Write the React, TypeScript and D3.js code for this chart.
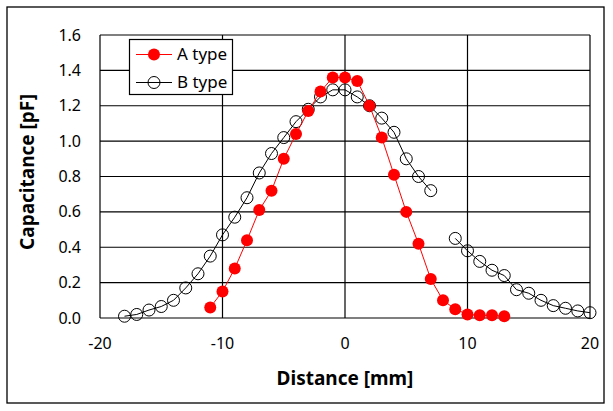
import { useEffect } from "react";
import * as d3 from "d3";

const W = 613;
const H = 411;

// plot area in pixels
const PLOT = { left: 100, right: 590, top: 35, bottom: 318 };

const xTicks = [-20, -10, 0, 10, 20];
const yTicks = [0, 0.2, 0.4, 0.6, 0.8, 1.0, 1.2, 1.4, 1.6];

// A type (filled red)
const aX = [-11, -10, -9, -8, -7, -6, -5, -4, -3, -2, -1, 0, 1, 2, 3, 4, 5, 6, 7, 8, 9, 10, 11, 12, 13];
const aY = [0.06, 0.15, 0.28, 0.44, 0.61, 0.72, 0.9, 1.04, 1.17, 1.28, 1.36, 1.36, 1.34, 1.2, 1.02, 0.81, 0.6, 0.42, 0.22, 0.1, 0.05, 0.02, 0.015, 0.015, 0.01];

// B type (open circles), null = gap in the line
const bX = [-18, -17, -16, -15, -14, -13, -12, -11, -10, -9, -8, -7, -6, -5, -4, -3, -2, -1, 0, 1, 2, 3, 4, 5, 6, 7, 8, 9, 10, 11, 12, 13, 14, 15, 16, 17, 18, 19, 20];
const bY: (number | null)[] = [0.01, 0.02, 0.045, 0.065, 0.1, 0.17, 0.25, 0.35, 0.47, 0.57, 0.68, 0.82, 0.93, 1.02, 1.11, 1.18, 1.25, 1.29, 1.29, 1.25, 1.2, 1.13, 1.05, 0.9, 0.8, 0.72, null, 0.45, 0.38, 0.32, 0.27, 0.24, 0.16, 0.14, 0.1, 0.07, 0.055, 0.04, 0.03];

const FONT = "'Noto Sans', 'Open Sans', sans-serif";

type Pt = { x: number; y: number | null };

export default function App() {
  useEffect(() => {
    document.body.style.margin = "0";
  }, []);

  const x = d3.scaleLinear().domain([-20, 20]).range([PLOT.left, PLOT.right]);
  const y = d3.scaleLinear().domain([0, 1.6]).range([PLOT.bottom, PLOT.top]);

  const aPts: Pt[] = aX.map((v, i) => ({ x: v, y: aY[i] }));
  const bPts: Pt[] = bX.map((v, i) => ({ x: v, y: bY[i] }));

  const line = d3
    .line<Pt>()
    .defined((d) => d.y !== null)
    .x((d) => x(d.x))
    .y((d) => y(d.y as number));

  return (
    <svg width={W} height={H} style={{ display: "block", background: "#fff" }}>
      {/* outer chart frame */}
      <rect x={7} y={7} width={597} height={396} fill="#fff" stroke="#000" strokeWidth={1.3} />

      {/* grid */}
      {yTicks.map((t) => (
        <line key={"gy" + t} x1={PLOT.left} x2={PLOT.right} y1={y(t)} y2={y(t)} stroke="#000" strokeWidth={1.2} />
      ))}
      {xTicks.map((t) => (
        <line key={"gx" + t} x1={x(t)} x2={x(t)} y1={PLOT.top} y2={PLOT.bottom} stroke="#000" strokeWidth={1.2} />
      ))}

      {/* tick labels */}
      {yTicks.map((t) => (
        <text key={"ty" + t} x={81} y={y(t)} dy="0.35em" textAnchor="end" fontFamily={FONT} fontSize={16} fill="#000">
          {t.toFixed(1)}
        </text>
      ))}
      {xTicks.map((t) => (
        <text key={"tx" + t} x={x(t)} y={343} dy="0.35em" textAnchor="middle" fontFamily={FONT} fontSize={16} fill="#000">
          {t}
        </text>
      ))}

      {/* axis titles */}
      <text x={345} y={378} dy="0.35em" textAnchor="middle" fontFamily={FONT} fontSize={19} fontWeight="bold">
        Distance [mm]
      </text>
      <text
        transform={`translate(27,172) rotate(-90)`}
        dy="0.35em"
        textAnchor="middle"
        fontFamily={FONT}
        fontSize={19}
        fontWeight="bold"
      >
        Capacitance [pF]
      </text>

      {/* B type */}
      <path d={line(bPts) ?? ""} fill="none" stroke="#000" strokeWidth={1} />
      {bPts
        .filter((d) => d.y !== null)
        .map((d) => (
          <circle key={"b" + d.x} cx={x(d.x)} cy={y(d.y as number)} r={6} fill="none" stroke="#000" strokeWidth={1} />
        ))}

      {/* A type */}
      <path d={line(aPts) ?? ""} fill="none" stroke="#ff0000" strokeWidth={1} />
      {aPts.map((d) => (
        <circle key={"a" + d.x} cx={x(d.x)} cy={y(d.y as number)} r={6} fill="#ff0000" />
      ))}

      {/* legend */}
      <rect x={129.5} y={39.5} width={103} height={55} fill="#fff" stroke="#000" strokeWidth={1.2} />
      <line x1={136} x2={172} y1={54.5} y2={54.5} stroke="#ff0000" strokeWidth={1} />
      <circle cx={154} cy={54.5} r={6} fill="#ff0000" />
      <text x={177} y={54.5} dy="0.35em" fontFamily={FONT} fontSize={17}>
        A type
      </text>
      <line x1={136} x2={172} y1={82.5} y2={82.5} stroke="#000" strokeWidth={1} />
      <circle cx={154} cy={82.5} r={6} fill="none" stroke="#000" strokeWidth={1} />
      <text x={177} y={82.5} dy="0.35em" fontFamily={FONT} fontSize={17}>
        B type
      </text>
    </svg>
  );
}
